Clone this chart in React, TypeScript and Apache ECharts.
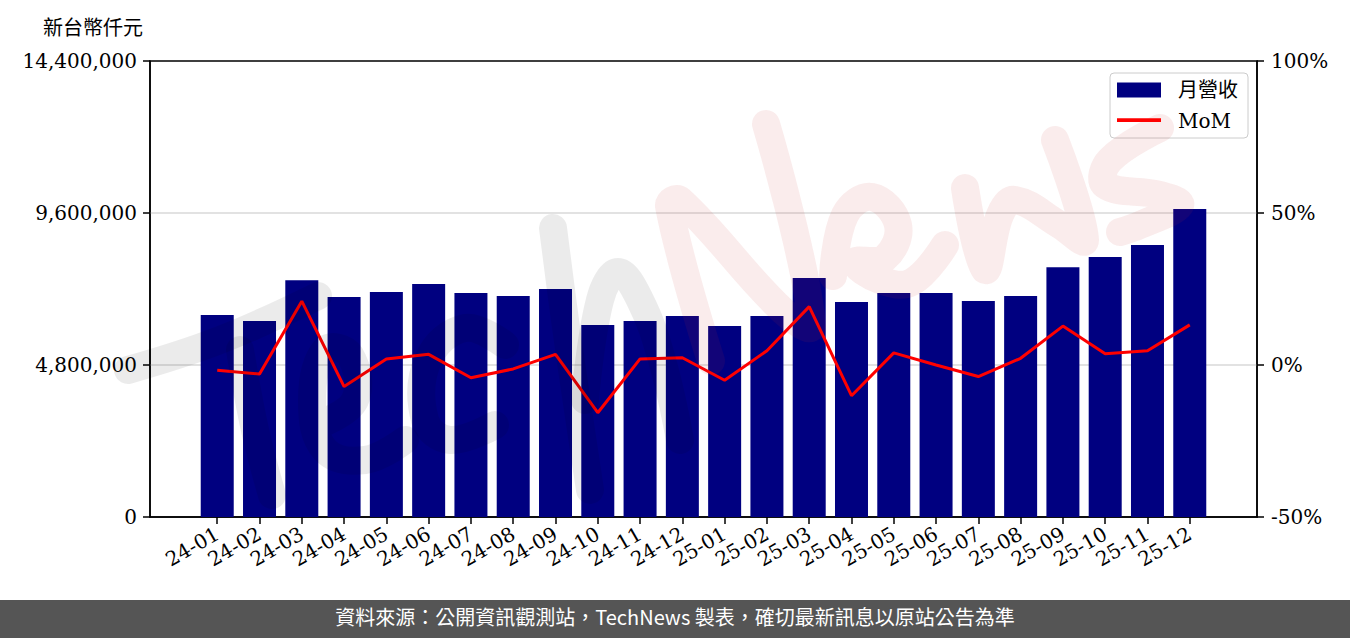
import React, { useEffect, useRef } from "react";
import * as echarts from "echarts";

const categories = [
  "24-01", "24-02", "24-03", "24-04", "24-05", "24-06", "24-07", "24-08", "24-09", "24-10", "24-11", "24-12",
  "25-01", "25-02", "25-03", "25-04", "25-05", "25-06", "25-07", "25-08", "25-09", "25-10", "25-11", "25-12",
];
const revenue = [
  6379000, 6190000, 7480000, 6950000, 7105000, 7360000, 7070000, 6980000, 7200000, 6060000, 6190000, 6350000,
  6030000, 6350000, 7550000, 6790000, 7070000, 7070000, 6820000, 6980000, 7890000, 8210000, 8590000, 9730000,
];
const mom = [
  -1.75, -2.96, 21.0, -7.1, 2.0, 3.5, -4.2, -1.3, 3.5, -15.7, 2.0, 2.4,
  -5.0, 4.7, 19.2, -10.1, 4.0, 0.0, -3.8, 2.2, 12.8, 3.7, 4.7, 13.2,
];
const leftTicks = [0, 4800000, 9600000, 14400000];
const rightTicks = [-50, 0, 50, 100];
const unitLabel = "新台幣仟元";
const footerText = "資料來源：公開資訊觀測站，TechNews 製表，確切最新訊息以原站公告為準";

const SERIF = "'DejaVu Serif', 'Noto Sans CJK TC', serif";

// watermark brush strokes (decoration)
const techStrokes = [
  [[128, 370], [220, 340], [318, 296]],
  [[240, 350], [255, 430], [272, 495]],
  [[318, 425], [355, 400], [350, 355], [325, 350], [312, 400], [325, 450], [365, 460], [405, 440]],
  [[505, 345], [465, 328], [428, 360], [425, 420], [450, 440], [495, 425]],
  [[553, 228], [565, 320], [578, 410], [590, 490]],
  [[585, 400], [600, 300], [618, 272], [640, 300], [662, 360], [680, 440]],
];
const newsStrokes = [
  [[711, 361], [669, 206], [680, 200], [783, 311], [812, 325], [766, 124]],
  [[833, 276], [845, 215], [872, 197], [898, 225], [885, 258], [855, 262], [880, 280], [912, 282], [945, 245]],
  [[965, 188], [985, 270], [1000, 215], [1015, 200], [1060, 225], [1085, 240], [1055, 140]],
  [[1160, 128], [1110, 160], [1105, 185], [1160, 195], [1180, 205], [1140, 225], [1120, 232]],
];

export default function App() {
  const ref = useRef<HTMLDivElement>(null);
  useEffect(() => {
    if (!ref.current) return;
    const chart = echarts.init(ref.current, undefined, { renderer: "svg" });
    const idx = categories.map((_, i) => i);
    const wm: any[] = [];
    techStrokes.forEach((pts) =>
      wm.push({
        type: "polyline",
        silent: true,
        z: 100,
        shape: { points: pts, smooth: 0.4 },
        style: { stroke: "rgba(0,0,0,0.08)", lineWidth: 28, fill: null, lineCap: "round", lineJoin: "round" },
      })
    );
    newsStrokes.forEach((pts) =>
      wm.push({
        type: "polyline",
        silent: true,
        z: 100,
        shape: { points: pts, smooth: 0.4 },
        style: { stroke: "rgba(205,40,40,0.09)", lineWidth: 28, fill: null, lineCap: "round", lineJoin: "round" },
      })
    );
    chart.setOption({
      animation: false,
      backgroundColor: "#ffffff",
      grid: {
        left: 150,
        right: 93,
        top: 61,
        bottom: 121,
        show: true,
        borderColor: "#000",
        borderWidth: 1.5,
        backgroundColor: "transparent",
      },
      legend: {
        orient: "vertical",
        left: 1110,
        top: 73,
        padding: [7, 10, 7, 7],
        itemWidth: 44,
        itemHeight: 15,
        itemGap: 11,
        borderColor: "#cccccc",
        borderWidth: 1,
        borderRadius: 4,
        backgroundColor: "rgba(255,255,255,0.8)",
        textStyle: { fontFamily: SERIF, fontSize: 20, color: "#000", padding: [0, 0, 0, 12] },
        data: [
          { name: "月營收", icon: "rect" },
          { name: "MoM", icon: "path://M0,0L20,0L20,1L0,1Z" },
        ],
      },
      xAxis: {
        type: "value",
        min: -1.59,
        max: 24.59,
        splitLine: { show: false },
        axisLine: { show: true, onZero: false, lineStyle: { color: "#000", width: 1.5 } },
        axisTick: { show: true, customValues: idx, length: 7, lineStyle: { color: "#000", width: 1.5 } },
        axisLabel: {
          customValues: idx,
          formatter: (v: number) => categories[Math.round(v)] ?? "",
          rotate: 30,
          margin: 15,
          fontFamily: SERIF,
          fontSize: 20,
          color: "#000",
        },
      },
      yAxis: [
        {
          type: "value",
          min: 0,
          max: leftTicks[leftTicks.length - 1],
          interval: leftTicks[1] - leftTicks[0],
          axisLine: { show: true, onZero: false, lineStyle: { color: "#000", width: 1.5 } },
          axisTick: { show: true, length: 7, lineStyle: { color: "#000", width: 1.5 } },
          splitLine: { show: true, showMinLine: false, showMaxLine: false, lineStyle: { color: "#d9d9d9", width: 1.5 } },
          axisLabel: {
            margin: 13,
            fontFamily: SERIF,
            fontSize: 20,
            color: "#000",
            formatter: (v: number) => v.toLocaleString("en-US"),
          },
        },
        {
          type: "value",
          min: rightTicks[0],
          max: rightTicks[rightTicks.length - 1],
          interval: rightTicks[1] - rightTicks[0],
          position: "right",
          axisLine: { show: true, onZero: false, lineStyle: { color: "#000", width: 1.5 } },
          axisTick: { show: true, length: 7, lineStyle: { color: "#000", width: 1.5 } },
          splitLine: { show: false },
          axisLabel: {
            margin: 14,
            fontFamily: SERIF,
            fontSize: 20,
            color: "#000",
            formatter: (v: number) => `${v}%`,
          },
        },
      ],
      series: [
        {
          name: "月營收",
          type: "bar",
          yAxisIndex: 0,
          barWidth: 33,
          itemStyle: { color: "#000080" },
          data: revenue.map((v, i) => [i, v]),
        },
        {
          name: "MoM",
          type: "line",
          yAxisIndex: 1,
          symbol: "none",
          lineStyle: { color: "#ff0000", width: 3 },
          itemStyle: { color: "#ff0000" },
          data: mom.map((v, i) => [i, v]),
          z: 5,
        },
      ],
      graphic: [
        ...wm,
        {
          type: "line",
          silent: true,
          z: 200,
          shape: { x1: 1117, y1: 120, x2: 1161, y2: 120 },
          style: { stroke: "#ff0000", lineWidth: 3.5 },
        },
        {
          type: "text",
          left: 43,
          top: 16,
          style: { text: unitLabel, font: "20px 'Noto Sans CJK TC', sans-serif", fill: "#000" },
        },
        {
          type: "rect",
          left: 0,
          top: 600,
          shape: { width: 1350, height: 38 },
          style: { fill: "#555555" },
        },
        {
          type: "text",
          left: "center",
          top: 606,
          style: { text: footerText, font: "20px 'Noto Sans CJK TC', sans-serif", fill: "#ffffff" },
        },
      ],
    });
    return () => chart.dispose();
  }, []);
  return (
    <div
      ref={ref}
      style={{ position: "fixed", left: 0, top: 0, width: 1350, height: 638 }}
    />
  );
}
